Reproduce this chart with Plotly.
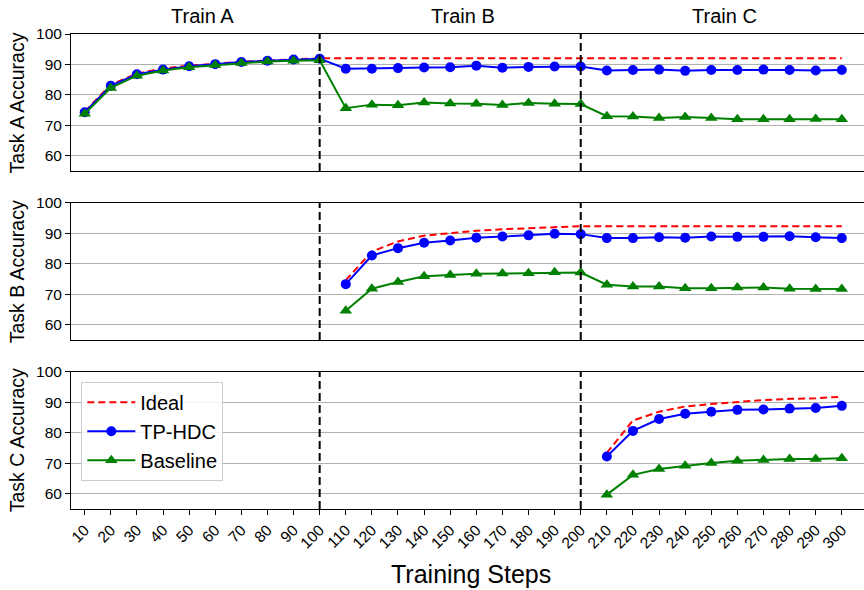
import plotly.graph_objects as go

steps = [10, 20, 30, 40, 50, 60, 70, 80, 90, 100,
         110, 120, 130, 140, 150, 160, 170, 180, 190, 200,
         210, 220, 230, 240, 250, 260, 270, 280, 290, 300]
tick_labels = [str(s) for s in steps]

# Task A accuracy
ideal_a = [74.5, 83.4, 87.0, 88.7, 89.6, 90.3, 90.9, 91.3, 91.7, 92.0,
           92.0, 92.0, 92.0, 92.0, 92.0, 92.0, 92.0, 92.0, 92.0, 92.0,
           92.0, 92.0, 92.0, 92.0, 92.0, 92.0, 92.0, 92.0, 92.0, 92.0]
tp_a = [74.3, 83.0, 86.8, 88.3, 89.4, 90.1, 90.8, 91.2, 91.6, 91.9,
        88.6, 88.6, 88.8, 89.0, 89.1, 89.6, 88.9, 89.2, 89.3, 89.3,
        88.0, 88.2, 88.3, 87.9, 88.2, 88.2, 88.3, 88.2, 88.0, 88.2]
base_a = [73.8, 82.3, 86.3, 88.0, 89.1, 89.8, 90.5, 91.0, 91.2, 91.4,
          75.6, 76.8, 76.6, 77.5, 77.2, 77.1, 76.7, 77.3, 77.1, 77.0,
          73.0, 72.9, 72.4, 72.7, 72.4, 72.0, 72.0, 72.0, 72.1, 72.0]

# Task B accuracy (not trained before step 110)
ideal_b = [None, None, None, None, None, None, None, None, None, None,
           74.6, 84.0, 87.3, 89.2, 90.0, 90.8, 91.3, 91.7, 92.0, 92.3,
           92.3, 92.3, 92.3, 92.3, 92.3, 92.3, 92.3, 92.3, 92.3, 92.3]
tp_b = [None, None, None, None, None, None, None, None, None, None,
        73.3, 82.7, 85.1, 86.9, 87.6, 88.5, 88.9, 89.3, 89.8, 89.7,
        88.4, 88.4, 88.7, 88.5, 88.9, 88.8, 88.8, 89.0, 88.7, 88.4]
base_b = [None, None, None, None, None, None, None, None, None, None,
          64.6, 71.8, 74.0, 75.9, 76.3, 76.7, 76.8, 76.9, 77.2, 77.1,
          73.1, 72.5, 72.5, 72.0, 72.0, 72.2, 72.2, 71.8, 71.7, 71.7]

# Task C accuracy (not trained before step 210)
ideal_c = [None, None, None, None, None, None, None, None, None, None,
           None, None, None, None, None, None, None, None, None, None,
           73.4, 84.0, 86.9, 88.6, 89.4, 90.1, 90.7, 91.1, 91.3, 91.8]
tp_c = [None, None, None, None, None, None, None, None, None, None,
        None, None, None, None, None, None, None, None, None, None,
        72.2, 80.6, 84.5, 86.2, 86.9, 87.5, 87.6, 87.9, 88.1, 88.8]
base_c = [None, None, None, None, None, None, None, None, None, None,
          None, None, None, None, None, None, None, None, None, None,
          59.7, 66.2, 68.1, 69.2, 70.1, 70.8, 71.1, 71.4, 71.4, 71.6]

phase_bounds = [100, 200]
phase_titles = ["Train A", "Train B", "Train C"]
phase_centers = [55, 155, 255]
y_titles = ["Task A Accuracy", "Task B Accuracy", "Task C Accuracy"]
y_ticks = [60, 70, 80, 90, 100]

FONT = "Liberation Sans, Arial, Helvetica, sans-serif"
W, H = 864, 590
L, R, T, B = 71, 0, 34, 81
plot_h = H - T - B
# pixel bounds (top, bottom) for each panel
panel_px = [(34, 171), (202.7, 340), (371.7, 509)]
domains = [[(H - B - b) / plot_h, (H - B - t) / plot_h] for (t, b) in panel_px]

fig = go.Figure()
panels = [(ideal_a, tp_a, base_a), (ideal_b, tp_b, base_b), (ideal_c, tp_c, base_c)]
for i, (ideal, tp, base) in enumerate(panels):
    xa = "x" if i == 0 else f"x{i+1}"
    ya = "y" if i == 0 else f"y{i+1}"
    show = (i == 2)
    fig.add_trace(go.Scatter(x=steps, y=ideal, mode="lines", name="Ideal",
                             line=dict(color="#ff0000", width=2, dash="7px,4px"),
                             xaxis=xa, yaxis=ya, showlegend=show, legendgroup="ideal"))
    fig.add_trace(go.Scatter(x=steps, y=tp, mode="lines+markers", name="TP-HDC",
                             line=dict(color="#0000ff", width=2),
                             marker=dict(symbol="circle", size=10, color="#0000ff"),
                             xaxis=xa, yaxis=ya, showlegend=show, legendgroup="tp"))
    fig.add_trace(go.Scatter(x=steps, y=base, mode="lines+markers", name="Baseline",
                             line=dict(color="#008000", width=2),
                             marker=dict(symbol="triangle-up", size=11, color="#008000"),
                             xaxis=xa, yaxis=ya, showlegend=show, legendgroup="base"))

layout = dict(
    width=W, height=H,
    margin=dict(l=L, r=R, t=T, b=B, pad=0),
    paper_bgcolor="white", plot_bgcolor="white",
    font=dict(family=FONT, size=15.5, color="black"),
    legend=dict(x=0.013, y=0.268, xref="paper", yref="paper",
                xanchor="left", yanchor="top",
                bgcolor="rgba(255,255,255,0.85)", bordercolor="#cccccc", borderwidth=1,
                font=dict(family=FONT, size=20, color="black"),
                itemwidth=48, tracegroupgap=0),
    shapes=[], annotations=[],
)

for i in range(3):
    xk = "xaxis" if i == 0 else f"xaxis{i+1}"
    yk = "yaxis" if i == 0 else f"yaxis{i+1}"
    ya = "y" if i == 0 else f"y{i+1}"
    xa = "x" if i == 0 else f"x{i+1}"
    layout[xk] = dict(
        domain=[0, 1], anchor=ya, range=[4.75, 308.5],
        tickmode="array", tickvals=steps, ticktext=tick_labels,
        showticklabels=(i == 2), ticks="outside" if i == 2 else "",
        ticklen=5, tickwidth=1, tickcolor="black", tickangle=-45,
        tickfont=dict(family=FONT, size=15.5, color="black"),
        showgrid=False, zeroline=False,
        showline=True, linecolor="black", linewidth=1, mirror=True,
    )
    if i > 0:
        layout[xk]["matches"] = "x"
    layout[yk] = dict(
        domain=domains[i], anchor=xa, range=[55, 100],
        tickmode="array", tickvals=y_ticks,
        ticks="outside", ticklen=5, tickwidth=1, tickcolor="black",
        tickfont=dict(family=FONT, size=15.5, color="black"),
        showgrid=True, gridcolor="#b0b0b0", gridwidth=1, zeroline=False,
        showline=True, linecolor="black", linewidth=1, mirror=True,
    )
    for xb in phase_bounds:
        layout["shapes"].append(dict(
            type="line", xref=xa, yref=f"{ya} domain", x0=xb, x1=xb, y0=0, y1=1,
            line=dict(color="black", width=2, dash="8px,4px"), layer="above"))
    layout["annotations"].append(dict(
        text=y_titles[i], xref="paper", yref=f"{ya} domain", x=(17 - L) / (W - L - R), y=0.5,
        xanchor="center", yanchor="middle", textangle=-90, showarrow=False,
        font=dict(family=FONT, size=19.5, color="black")))

for name, cx in zip(phase_titles, phase_centers):
    layout["annotations"].append(dict(
        text=name, xref="x", yref="paper", x=cx, y=(H - B - 16) / plot_h,
        xanchor="center", yanchor="middle", showarrow=False,
        font=dict(family=FONT, size=20, color="black")))

layout["annotations"].append(dict(
    text="Training Steps", xref="paper", yref="paper",
    x=(471 - L) / (W - L - R), y=(H - B - 574) / plot_h,
    xanchor="center", yanchor="middle", showarrow=False,
    font=dict(family=FONT, size=25, color="black")))

fig.update_layout(**layout)
fig.write_html("out.html", config={"displayModeBar": False},
               post_script="document.body.style.margin='0';document.body.style.overflow='hidden';")
